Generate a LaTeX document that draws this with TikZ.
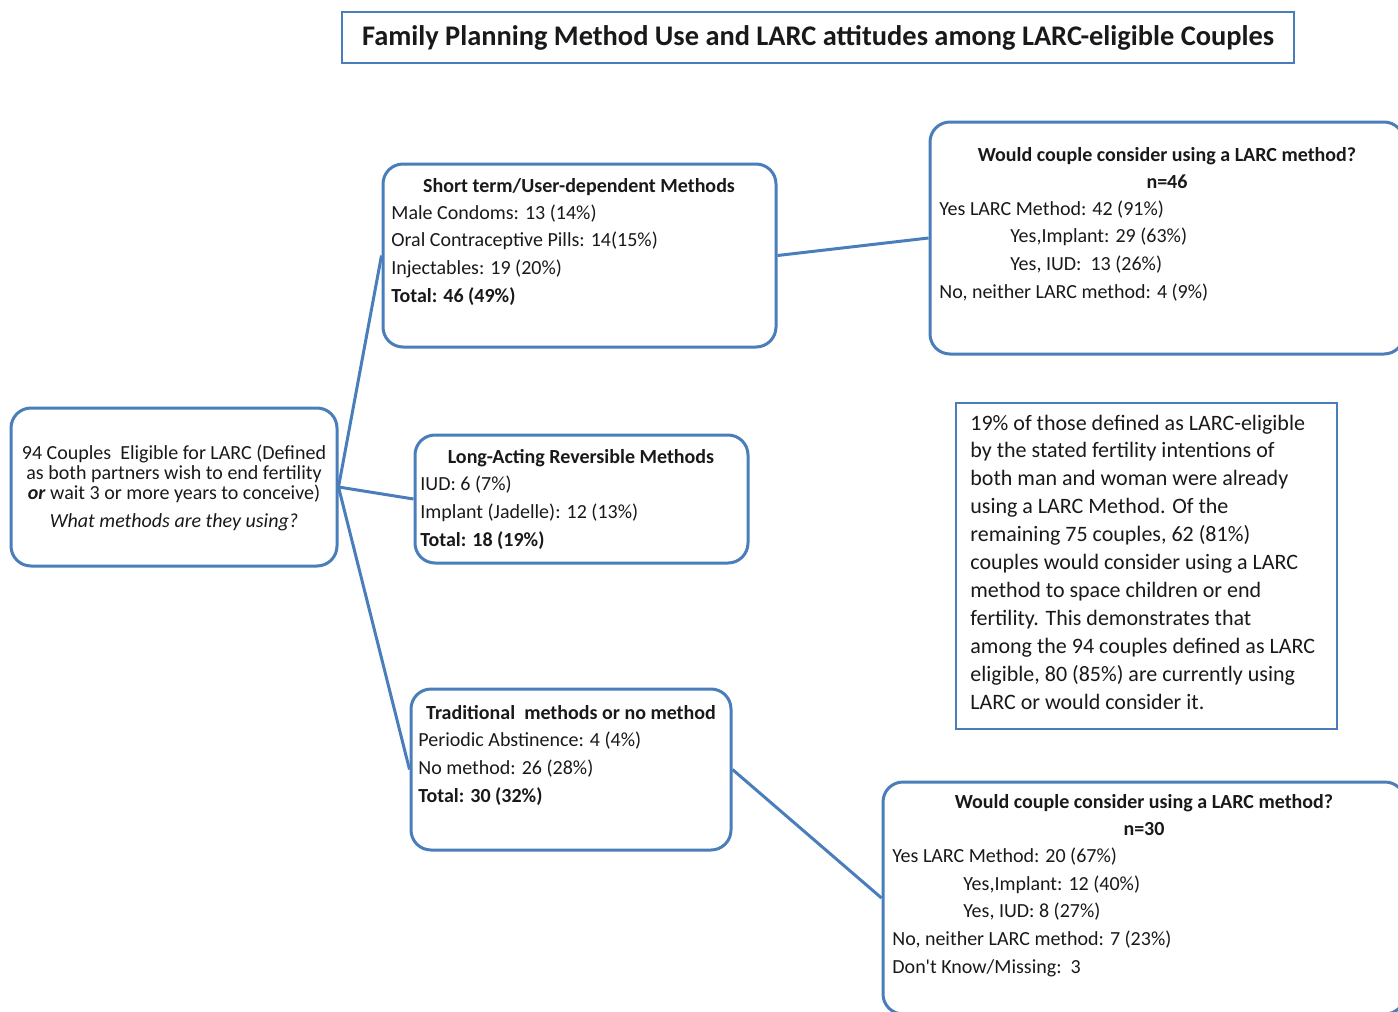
\documentclass[tikz,border=0pt]{standalone}
\usepackage{fontspec}
\setmainfont{Carlito}
\usepackage{xcolor}
\definecolor{boxblue}{RGB}{74,126,187}
\definecolor{inktext}{RGB}{25,25,25}

\tikzset{
  roundbox/.style={draw=boxblue, line width=1.5pt, rounded corners=10pt, inner sep=0pt},
  plainbox/.style={draw=boxblue, line width=1.2pt, inner sep=0pt},
  link/.style={draw=boxblue, line width=1.5pt},
  % multi-line nodes: placed at the baseline of their last line
  body/.style={inner sep=0pt, align=left, anchor=base west, font=\fontsize{10}{13.8}\selectfont, text=inktext},
  head/.style={inner sep=0pt, anchor=base, font=\fontsize{10}{13.8}\selectfont\bfseries, text=inktext},
}

\begin{document}
\begin{tikzpicture}[x=0.5pt,y=-0.5pt]
\useasboundingbox (0,0) rectangle (1398,1012);

% title
\node[plainbox, minimum width=476pt, minimum height=25.5pt, font=\fontsize{14.2}{16}\selectfont\bfseries, text=inktext] (title) at (818,37.5) {Family Planning Method Use and LARC attitudes among LARC-eligible Couples};

% boxes
\node[roundbox, minimum width=163pt, minimum height=79pt] (couples) at (174,487) {};
\node[roundbox, minimum width=196.5pt, minimum height=91.5pt] (short) at (579.5,255.5) {};
\node[roundbox, minimum width=166.5pt, minimum height=64pt] (larc) at (581.5,499) {};
\node[roundbox, minimum width=160pt, minimum height=80.5pt] (trad) at (571,769.5) {};
\node[roundbox, minimum width=237pt, minimum height=116pt] (shortyes) at (1167,238) {};
\node[roundbox, minimum width=261pt, minimum height=116pt] (tradyes) at (1144,898) {};
\node[plainbox, minimum width=190.5pt, minimum height=163pt] (note) at (1146.5,566) {};

% links
\draw[link] (couples.east) -- (short.west);
\draw[link] (couples.east) -- (larc.west);
\draw[link] (couples.east) -- (trad.west);
\draw[link] (short.east) -- (shortyes.west);
\draw[link] (trad.east) -- (tradyes.west);

% texts
\node[inner sep=0pt, align=center, anchor=base, font=\fontsize{10}{10}\selectfont, text=inktext] (couplestext) at (174,527)
  {94 Couples\ \ Eligible for LARC (Defined\\ as both partners wish to end fertility\\ \textbf{\textit{or}} wait 3 or more years to conceive)\\[4pt] \textit{What methods are they using?}};

\node[head] (shorthead) at (579,192) {Short term/User-dependent Methods};
\node[body] (shorttext) at (391,302) {Male Condoms: 13 (14\%)\\ Oral Contraceptive Pills: 14(15\%)\\ Injectables: 19 (20\%)\\ \textbf{Total: 46 (49\%)}};

\node[head] (larchead) at (581,463) {Long-Acting Reversible Methods};
\node[body] (larctext) at (420,546) {IUD: 6 (7\%)\\ Implant (Jadelle): 12 (13\%)\\ \textbf{Total: 18 (19\%)}};

\node[head] (tradhead) at (571,719) {Traditional\ \ methods or no method};
\node[body] (tradtext) at (418,802) {Periodic Abstinence: 4 (4\%)\\ No method: 26 (28\%)\\ \textbf{Total: 30 (32\%)}};

\node[head] (shortyeshead) at (1167,161) {Would couple consider using a LARC method?};
\node[head] (shortyesn) at (1167,188) {n=46};
\node[body] (shortyestext) at (939,298) {Yes LARC Method: 42 (91\%)\\ \hspace*{35.5pt}Yes,Implant: 29 (63\%)\\ \hspace*{35.5pt}Yes, IUD:\ \ 13 (26\%)\\ No, neither LARC method: 4 (9\%)};

\node[head] (tradyeshead) at (1144,808) {Would couple consider using a LARC method?};
\node[head] (tradyesn) at (1144,835) {n=30};
\node[body] (tradyestext) at (892,973) {Yes LARC Method: 20 (67\%)\\ \hspace*{35.5pt}Yes,Implant: 12 (40\%)\\ \hspace*{35.5pt}Yes, IUD: 8 (27\%)\\ No, neither LARC method: 7 (23\%)\\ Don\textquotesingle t Know/Missing:\ \ 3};

\node[body, font=\fontsize{11}{13.95}\selectfont] (notetext) at (970,709) {19\% of those defined as LARC-eligible\\ by the stated fertility intentions of\\ both man and woman were already\\ using a LARC Method. Of the\\ remaining 75 couples, 62 (81\%)\\ couples would consider using a LARC\\ method to space children or end\\ fertility. This demonstrates that\\ among the 94 couples defined as LARC\\ eligible, 80 (85\%) are currently using\\ LARC or would consider it.};
\end{tikzpicture}
\end{document}
